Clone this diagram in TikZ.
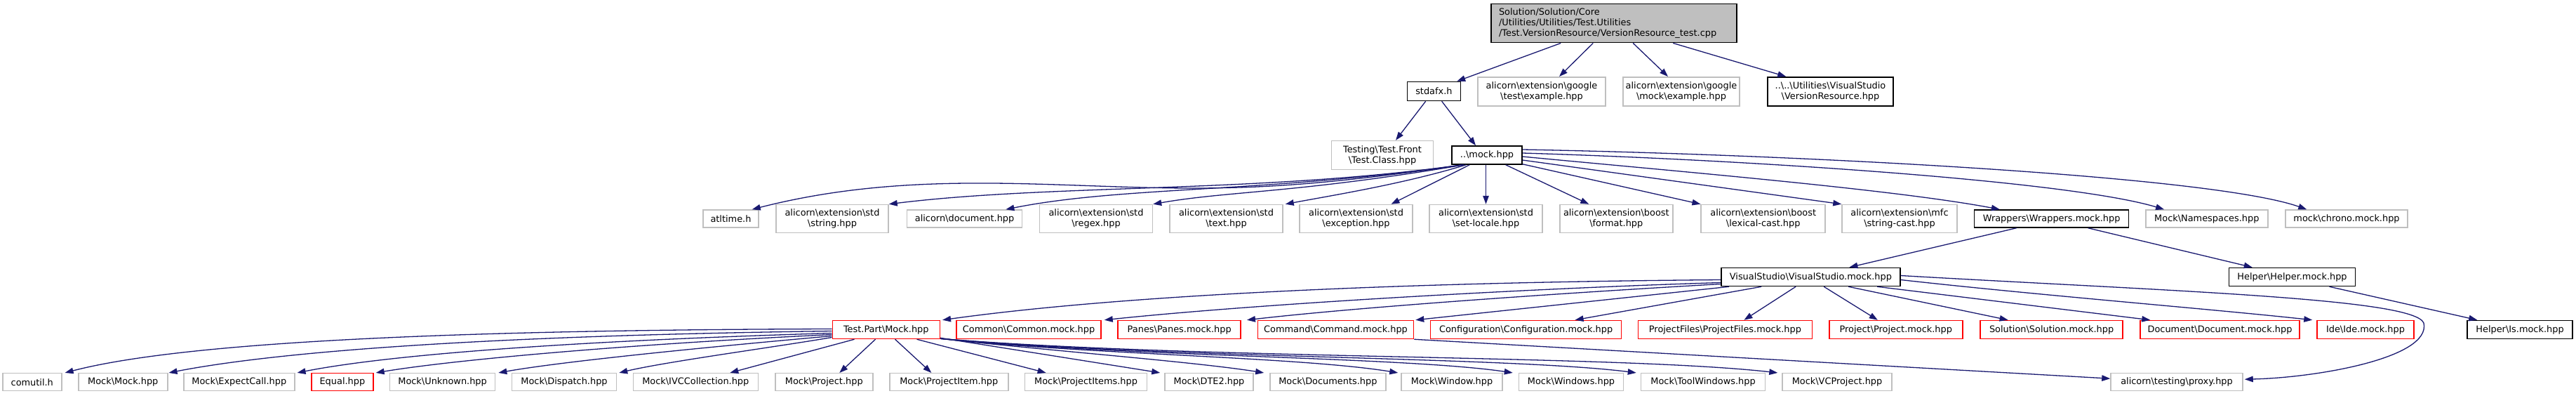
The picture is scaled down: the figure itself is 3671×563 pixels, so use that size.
\documentclass[tikz,border=0pt]{standalone}
\usepackage{fontspec}
\setmainfont{DejaVu Sans}
\usetikzlibrary{arrows.meta,calc}
\newcommand{\bsl}{\textbackslash}
\definecolor{edgeblue}{HTML}{191970}
\definecolor{boxgray}{HTML}{BFBFBF}
\definecolor{boxred}{HTML}{FF0000}
\begin{document}
\begin{tikzpicture}[x=1pt,y=-1pt,
  nd/.style={rectangle, inner sep=0pt, fill=white, text=black, align=center,
    font=\fontsize{12.9}{15}\selectfont, line width=1.5pt},
  sz/.style 2 args={minimum width=#1, minimum height=#2},
  gnode/.style={nd, draw=boxgray},
  bnode/.style={nd, draw=black},
  rnode/.style={nd, draw=boxred},
  rootnode/.style={nd, draw=black, fill=boxgray, align=left},
  edge/.style={draw=edgeblue, line width=1.3pt, -{Triangle[length=12pt,width=8.5pt]}}
]
\path[use as bounding box] (0,0) rectangle (3671,563);

% row 1
\node[rootnode, sz={350}{55}, text width=328] (root) at (2300,33.2) {Solution/Solution/Core\\/Utilities/Utilities/Test.Utilities\\/Test.VersionResource/VersionResource\_test.cpp};
% row 2
\node[bnode, sz={76}{27}] (stdafx) at (2043.4,130) {stdafx.h};
\node[gnode, sz={182}{41}] (gtest) at (2197,130.3) {alicorn\bsl extension\bsl google\\\bsl test\bsl example.hpp};
\node[gnode, sz={166}{41}] (gmock) at (2396,130.3) {alicorn\bsl extension\bsl google\\\bsl mock\bsl example.hpp};
\node[bnode, sz={179}{41}] (versionres) at (2608.5,130.3) {..\bsl..\bsl Utilities\bsl VisualStudio\\\bsl VersionResource.hpp};
% row 3
\node[gnode, sz={145}{41}] (testfront) at (1970,221) {Testing\bsl Test.Front\\\bsl Test.Class.hpp};
\node[bnode, sz={100}{26}] (mock) at (2119,221) {..\bsl mock.hpp};
% row 4
\node[gnode, sz={79}{25}] (atltime) at (1041.5,311.5) {atltime.h};
\node[gnode, sz={160}{40}] (string) at (1186,311.5) {alicorn\bsl extension\bsl std\\\bsl string.hpp};
\node[gnode, sz={164}{25}] (document) at (1374.6,311.5) {alicorn\bsl document.hpp};
\node[gnode, sz={161}{40}] (regex) at (1562,311.5) {alicorn\bsl extension\bsl std\\\bsl regex.hpp};
\node[gnode, sz={161}{40}] (text) at (1747.5,311.5) {alicorn\bsl extension\bsl std\\\bsl text.hpp};
\node[gnode, sz={161}{40}] (exception) at (1932.5,311.5) {alicorn\bsl extension\bsl std\\\bsl exception.hpp};
\node[gnode, sz={161}{40}] (setlocale) at (2117.5,311.5) {alicorn\bsl extension\bsl std\\\bsl set-locale.hpp};
\node[gnode, sz={161}{40}] (format) at (2303.3,311.5) {alicorn\bsl extension\bsl boost\\\bsl format.hpp};
\node[gnode, sz={177}{40}] (lexical) at (2512.7,311.5) {alicorn\bsl extension\bsl boost\\\bsl lexical-cast.hpp};
\node[gnode, sz={164}{40}] (stringcast) at (2707,311.5) {alicorn\bsl extension\bsl mfc\\\bsl string-cast.hpp};
\node[bnode, sz={220}{25}] (wrappers) at (2923.6,311.5) {Wrappers\bsl Wrappers.mock.hpp};
\node[gnode, sz={174}{25}] (namespaces) at (3144.8,311.5) {Mock\bsl Namespaces.hpp};
\node[gnode, sz={174}{25}] (chrono) at (3344,311.5) {mock\bsl chrono.mock.hpp};
% row 5
\node[bnode, sz={255}{26}] (vs) at (2580.4,394.5) {VisualStudio\bsl VisualStudio.mock.hpp};
\node[bnode, sz={180}{26}] (helper) at (3266.5,394.5) {Helper\bsl Helper.mock.hpp};
% row 6
\node[rnode, sz={153}{26}] (testpart) at (1262.8,469.5) {Test.Part\bsl Mock.hpp};
\node[rnode, sz={206}{26}] (common) at (1466,469.5) {Common\bsl Common.mock.hpp};
\node[rnode, sz={175}{26}] (panes) at (1680.7,469.5) {Panes\bsl Panes.mock.hpp};
\node[rnode, sz={222}{26}] (command) at (1903.5,469.5) {Command\bsl Command.mock.hpp};
\node[rnode, sz={272}{26}] (configuration) at (2174.6,469.5) {Configuration\bsl Configuration.mock.hpp};
\node[rnode, sz={248}{26}] (projectfiles) at (2458.4,469.5) {ProjectFiles\bsl ProjectFiles.mock.hpp};
\node[rnode, sz={190}{26}] (projectmock) at (2701.8,469.5) {Project\bsl Project.mock.hpp};
\node[rnode, sz={203}{26}] (solution) at (2923.6,469.5) {Solution\bsl Solution.mock.hpp};
\node[rnode, sz={227}{26}] (docmock) at (3163.5,469.5) {Document\bsl Document.mock.hpp};
\node[rnode, sz={138}{26}] (ide) at (3371,469.5) {Ide\bsl Ide.mock.hpp};
\node[bnode, sz={150}{26}] (is) at (3591,469.5) {Helper\bsl Is.mock.hpp};
% row 7
\node[gnode, sz={84}{25}] (comutil) at (45.8,544.2) {comutil.h};
\node[gnode, sz={127}{25}] (mockmock) at (175.3,544.2) {Mock\bsl Mock.hpp};
\node[gnode, sz={158}{25}] (expectcall) at (340.8,544.2) {Mock\bsl ExpectCall.hpp};
\node[rnode, sz={88}{25}] (equal) at (487.9,544.2) {Equal.hpp};
\node[gnode, sz={150}{25}] (unknown) at (630.6,544.2) {Mock\bsl Unknown.hpp};
\node[gnode, sz={149}{25}] (dispatch) at (804,544.2) {Mock\bsl Dispatch.hpp};
\node[gnode, sz={178}{25}] (ivc) at (991.3,544.2) {Mock\bsl IVCCollection.hpp};
\node[gnode, sz={139}{25}] (mproject) at (1174.3,544.2) {Mock\bsl Project.hpp};
\node[gnode, sz={169}{25}] (projectitem) at (1352.3,544.2) {Mock\bsl ProjectItem.hpp};
\node[gnode, sz={174}{25}] (projectitems) at (1547.6,544.2) {Mock\bsl ProjectItems.hpp};
\node[gnode, sz={126}{25}] (dte2) at (1723,544.2) {Mock\bsl DTE2.hpp};
\node[gnode, sz={165}{25}] (documents) at (1892.4,544.2) {Mock\bsl Documents.hpp};
\node[gnode, sz={144}{25}] (window) at (2069,544.2) {Mock\bsl Window.hpp};
\node[gnode, sz={149}{25}] (windows) at (2239,544.2) {Mock\bsl Windows.hpp};
\node[gnode, sz={177}{25}] (toolwindows) at (2427,544.2) {Mock\bsl ToolWindows.hpp};
\node[gnode, sz={156}{25}] (vcproject) at (2618,544.2) {Mock\bsl VCProject.hpp};
\node[gnode, sz={188}{25}] (proxy) at (3102,544.2) {alicorn\bsl testing\bsl proxy.hpp};

% root edges
\draw[edge] ($(root.south west)+(100,0)$) -- ($(stdafx.north east)+(-6,0)$);
\draw[edge] ($(root.south west)+(146,0)$) -- ($(gtest.north)+(25,0)$);
\draw[edge] ($(root.south west)+(203,0)$) -- ($(gmock.north)+(-19,0)$);
\draw[edge] ($(root.south west)+(260,0)$) -- ($(versionres.north west)+(27,0)$);
% stdafx edges
\draw[edge] ($(stdafx.south west)+(27,0)$) -- ($(testfront.north)+(19,0)$);
\draw[edge] ($(stdafx.south west)+(50,0)$) -- ($(mock.north)+(-16,0)$);
% mock edges
\draw[edge] ($(mock.south west)+(16,0)$) .. controls (1900,262) and (1800,268) .. (1700,268)
   .. controls (1500,268) and (1300,240) .. ($(atltime.north east)+(-10,0)$);
\draw[edge] ($(mock.south west)+(15,0)$) .. controls (1800,275) and (1500,262) .. (string.north east);
\draw[edge] ($(mock.south west)+(17,0)$) .. controls (1800,275) and (1600,265) .. ($(document.north east)+(-24,0)$);
\draw[edge] ($(mock.south west)+(18,0)$) .. controls (1850,275) and (1750,272) .. (regex.north east);
\draw[edge] ($(mock.south west)+(21,0)$) .. controls (2000,262) and (1900,278) .. ($(text.north east)+(3,0)$);
\draw[edge] ($(mock.south west)+(26,0)$) -- ($(exception.north)+(50,0)$);
\draw[edge] (mock.south -| setlocale.north) -- (setlocale.north);
\draw[edge] ($(mock.south east)+(-24,0)$) -- ($(format.north)+(-39,0)$);
\draw[edge] ($(mock.south east)+(0,-1)$) -- (lexical.north west);
\draw[edge] ($(mock.east)+(0,7)$) -- (stringcast.north west);
\draw[edge] ($(mock.east)+(0,2)$) .. controls (2400,245) and (2700,270) .. ($(wrappers.north west)+(37,0)$);
\draw[edge] ($(mock.east)+(0,-3)$) .. controls (2500,228) and (2950,258) .. ($(namespaces.north west)+(27,0)$);
\draw[edge] ($(mock.east)+(0,-8)$) .. controls (2550,220) and (3150,250) .. ($(chrono.north west)+(31,0)$);
% wrappers / helper
\draw[edge] ($(wrappers.south)+(-50,0)$) -- ($(vs.north)+(55,0)$);
\draw[edge] ($(wrappers.south)+(52,0)$) -- ($(helper.north west)+(34,0)$);
\draw[edge] ($(helper.south)+(53,0)$) -- ($(is.north west)+(15,0)$);
% vs edges
\draw[edge] ($(vs.west)+(0,4)$) .. controls (2000,402) and (1600,420) .. ($(testpart.north east)+(3,0)$);
\draw[edge] ($(vs.west)+(0,8)$) .. controls (2200,410) and (1800,432) .. ($(common.north east)+(4,0)$);
\draw[edge] ($(vs.west)+(0,10)$) .. controls (2250,416) and (1950,436) .. ($(panes.north east)+(8,0)$);
\draw[edge] ($(vs.south west)+(12,0)$) -- ($(command.north east)+(2,0)$);
\draw[edge] ($(vs.south west)+(58,0)$) -- ($(configuration.north)+(70,0)$);
\draw[edge] ($(vs.south west)+(107,0)$) -- ($(projectfiles.north)+(27,0)$);
\draw[edge] ($(vs.south west)+(147,0)$) -- ($(projectmock.north)+(-26,0)$);
\draw[edge] ($(vs.south west)+(182,0)$) -- ($(solution.north)+(-62,0)$);
\draw[edge] ($(vs.south west)+(223,0)$) -- ($(docmock.north west)+(15,0)$);
\draw[edge] ($(vs.east)+(0,4)$) .. controls (2900,420) and (3150,440) .. ($(ide.north west)+(-6,0)$);
\draw[edge] ($(vs.east)+(0,-2)$) .. controls (3100,415) and (3440,425) .. (3454,460)
   .. controls (3465,510) and (3300,538) .. ($(proxy.east)+(2,-4)$);
% command -> proxy
\draw[edge] (command.south east) -- ($(proxy.west)+(0,-5)$);
% testpart edges
\draw[edge] ($(testpart.west)+(0,-1)$) .. controls (600,470) and (250,490) .. ($(comutil.north east)+(4,0)$);
\draw[edge] ($(testpart.west)+(0,2)$) .. controls (700,478) and (400,500) .. ($(mockmock.north east)+(1,0)$);
\draw[edge] ($(testpart.west)+(0,5)$) .. controls (800,486) and (550,506) .. ($(expectcall.north east)+(3,0)$);
\draw[edge] ($(testpart.west)+(0,7)$) .. controls (900,490) and (650,512) .. ($(equal.north east)+(3,0)$);
\draw[edge] ($(testpart.west)+(0,9)$) .. controls (1000,495) and (800,515) .. ($(unknown.north east)+(4,0)$);
\draw[edge] ($(testpart.west)+(0,11)$) .. controls (1100,495) and (950,515) .. ($(dispatch.north east)+(3,0)$);
\draw[edge] ($(testpart.south west)+(32,0)$) -- ($(ivc.north)+(49,0)$);
\draw[edge] ($(testpart.south west)+(62,0)$) -- ($(mproject.north)+(22,0)$);
\draw[edge] ($(testpart.south west)+(90,0)$) -- ($(projectitem.north)+(-25,0)$);
\draw[edge] ($(testpart.south west)+(121,0)$) -- ($(projectitems.north)+(-57,0)$);
\draw[edge] ($(testpart.south east)+(0,-2)$) -- ($(dte2.north west)+(-6,0)$);
\draw[edge] ($(testpart.south east)+(0,-1)$) .. controls (1500,500) and (1700,515) .. ($(documents.north west)+(-8,0)$);
\draw[edge] ($(testpart.south east)+(0,-1)$) .. controls (1550,505) and (1850,508) .. ($(window.north west)+(-4,0)$);
\draw[edge] ($(testpart.south east)+(0,-1)$) .. controls (1600,508) and (2000,508) .. ($(windows.north west)+(-8,0)$);
\draw[edge] ($(testpart.south east)+(0,-1)$) .. controls (1650,510) and (2150,508) .. ($(toolwindows.north west)+(-6,0)$);
\draw[edge] ($(testpart.south east)+(0,-1)$) .. controls (1700,512) and (2300,505) .. ($(vcproject.north west)+(-6,0)$);
\end{tikzpicture}
\end{document}
